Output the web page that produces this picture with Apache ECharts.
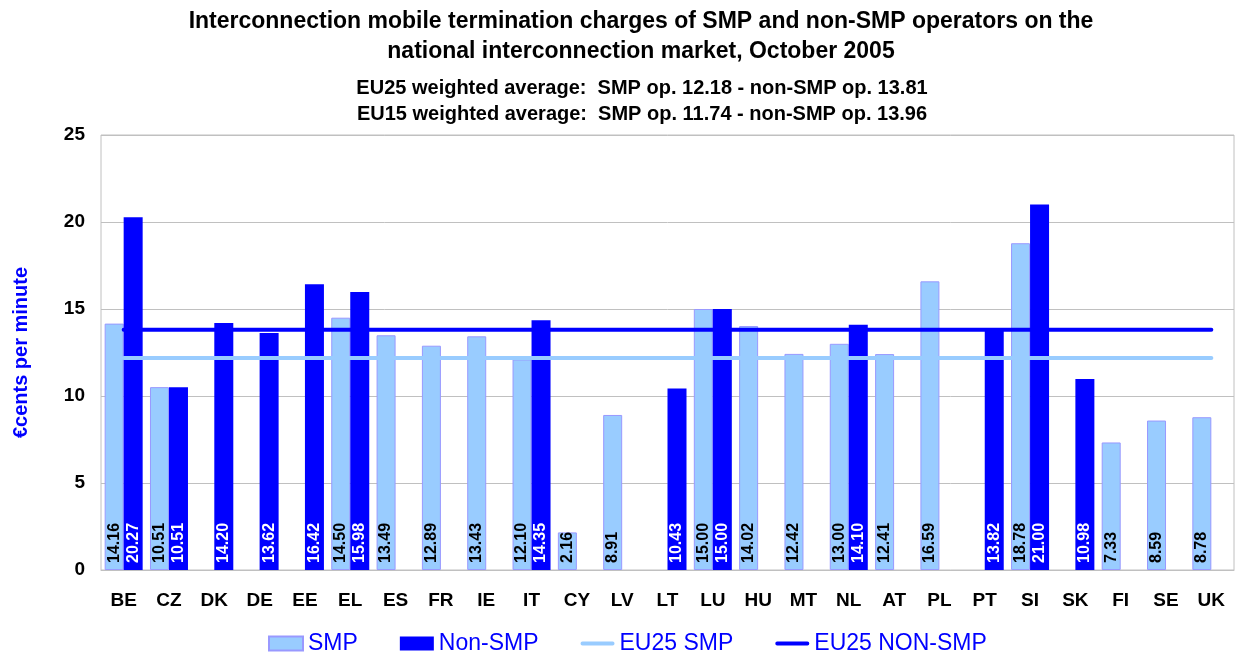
<!DOCTYPE html>
<html>
<head>
<meta charset="utf-8">
<script src="https://cdn.jsdelivr.net/npm/echarts@6/dist/echarts.min.js"></script>
<style>
  html, body { margin: 0; padding: 0; background: #fff; }
  #chart { width: 1236px; height: 654px; }
</style>
</head>
<body>
<div id="chart"></div>
<script>
var countries = ['BE', 'CZ', 'DK', 'DE', 'EE', 'EL', 'ES', 'FR', 'IE', 'IT', 'CY', 'LV', 'LT',
                 'LU', 'HU', 'MT', 'NL', 'AT', 'PL', 'PT', 'SI', 'SK', 'FI', 'SE', 'UK'];
var smpValues = [14.16, 10.51, null, null, null, 14.50, 13.49, 12.89, 13.43, 12.10, 2.16, 8.91, null,
                 15.00, 14.02, 12.42, 13.00, 12.41, 16.59, null, 18.78, null, 7.33, 8.59, 8.78];
var nonSmpValues = [20.27, 10.51, 14.20, 13.62, 16.42, 15.98, null, null, null, 14.35, null, null, 10.43,
                    15.00, null, null, 14.10, null, null, 13.82, 21.00, 10.98, null, null, null];
var eu25Smp = 12.18;
var eu25NonSmp = 13.81;
var yTicks = { min: 0, max: 25, interval: 5 };

var font = 'Arial, "Liberation Sans", sans-serif';
var lineIcon = 'path://M2,0 L34,0 A2,2 0 0 1 34,4 L2,4 A2,2 0 0 1 2,0 Z';

var chart = echarts.init(document.getElementById('chart'));

function barLabel(color) {
    return {
        show: true,
        position: 'insideBottom',
        rotate: 90,
        align: 'left',
        verticalAlign: 'middle',
        distance: 7,
        color: color,
        fontFamily: font,
        fontWeight: 'bold',
        fontSize: 16,
        formatter: function (p) { return p.value.toFixed(2); }
    };
}

var option = {
    animation: false,
    title: [{
        text: 'Interconnection mobile termination charges of SMP and non-SMP operators on the\nnational interconnection market, October 2005',
        left: 641,
        textAlign: 'center',
        top: 7,
        padding: 0,
        textStyle: { fontFamily: font, fontWeight: 'bold', fontSize: 23, lineHeight: 30, color: '#000' }
    }, {
        text: 'EU25 weighted average:  SMP op. 12.18 - non-SMP op. 13.81\nEU15 weighted average:  SMP op. 11.74 - non-SMP op. 13.96',
        left: 642,
        textAlign: 'center',
        top: 75,
        padding: 0,
        textStyle: { fontFamily: font, fontWeight: 'bold', fontSize: 20, lineHeight: 26, color: '#000' }
    }],
    legend: {
        left: 268,
        top: 632,
        padding: 0,
        itemWidth: 34,
        itemHeight: 14,
        itemGap: 42,
        textStyle: { fontFamily: font, fontSize: 23, color: '#0000ff' },
        data: [
            { name: 'SMP', icon: 'rect' },
            { name: 'Non-SMP', icon: 'rect' },
            { name: 'EU25 SMP', icon: lineIcon },
            { name: 'EU25 NON-SMP', icon: lineIcon }
        ]
    },
    grid: {
        left: 101,
        right: 2,
        top: 135,
        bottom: 84,
        show: true,
        borderColor: '#c0c0c0',
        borderWidth: 1
    },
    xAxis: {
        type: 'category',
        data: countries,
        axisTick: { show: false },
        axisLine: { lineStyle: { color: '#c0c0c0' } },
        axisLabel: { margin: 21, color: '#000', fontFamily: font, fontWeight: 'bold', fontSize: 19, interval: 0 }
    },
    yAxis: {
        type: 'value',
        min: yTicks.min,
        max: yTicks.max,
        interval: yTicks.interval,
        name: '€cents per minute',
        nameLocation: 'middle',
        nameRotate: 90,
        nameGap: 70,
        nameTextStyle: { color: '#0000ff', fontFamily: font, fontWeight: 'bold', fontSize: 20 },
        axisLine: { show: false },
        axisTick: { show: false },
        axisLabel: { margin: 16, color: '#000', fontFamily: font, fontWeight: 'bold', fontSize: 19 },
        splitLine: { lineStyle: { color: '#c0c0c0' } }
    },
    series: [{
        name: 'SMP',
        type: 'bar',
        data: smpValues,
        barWidth: 19,
        barGap: '0%',
        itemStyle: { color: '#99ccff', borderColor: '#9999ff', borderWidth: 1 },
        label: barLabel('#000')
    }, {
        name: 'Non-SMP',
        type: 'bar',
        data: nonSmpValues,
        barWidth: 19,
        barGap: '0%',
        itemStyle: { color: '#0000ff' },
        label: barLabel('#fff')
    }, {
        name: 'EU25 SMP',
        type: 'line',
        data: countries.map(function () { return eu25Smp; }),
        symbol: 'none',
        itemStyle: { color: '#99ccff' },
        lineStyle: { color: '#99ccff', width: 4, cap: 'round' }
    }, {
        name: 'EU25 NON-SMP',
        type: 'line',
        data: countries.map(function () { return eu25NonSmp; }),
        symbol: 'none',
        itemStyle: { color: '#0000ff' },
        lineStyle: { color: '#0000ff', width: 4, cap: 'round' }
    }]
};

chart.setOption(option);
</script>
</body>
</html>
